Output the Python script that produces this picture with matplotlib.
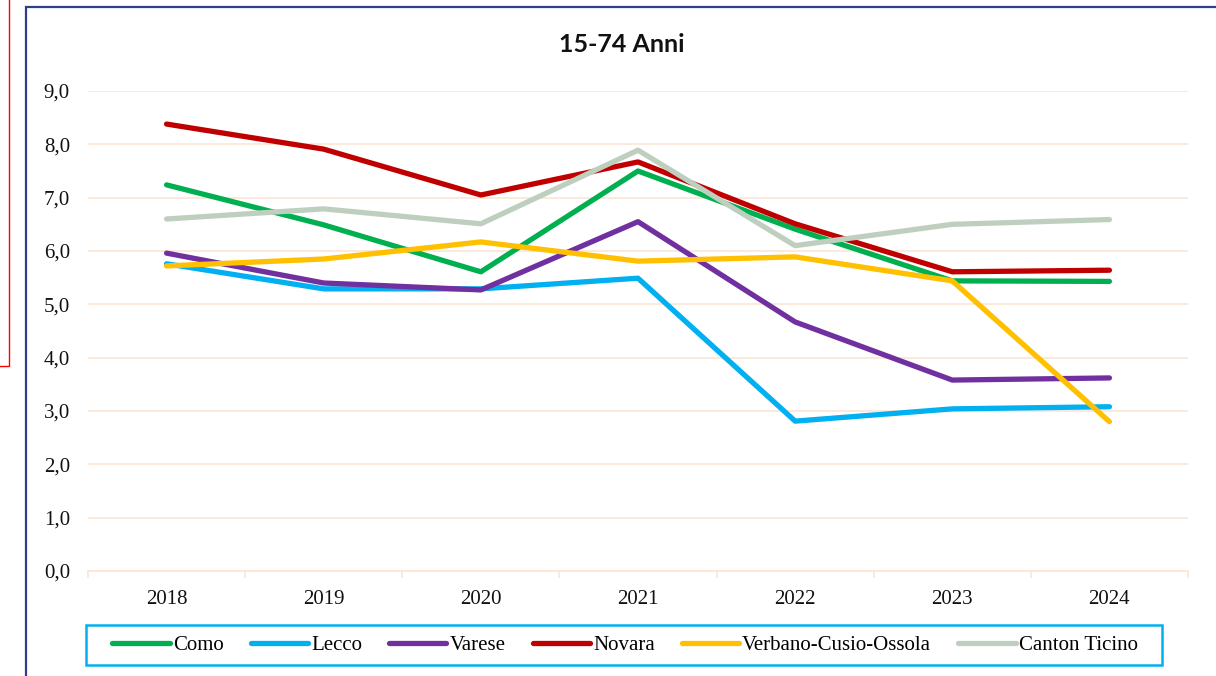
import matplotlib.pyplot as plt
from matplotlib.patches import Rectangle

anni = ['2018', '2019', '2020', '2021', '2022', '2023', '2024']

como = [7.24, 6.49, 5.61, 7.50, 6.41, 5.44, 5.43]
lecco = [5.76, 5.29, 5.29, 5.49, 2.81, 3.04, 3.08]
varese = [5.96, 5.40, 5.27, 6.55, 4.67, 3.58, 3.62]
novara = [8.38, 7.91, 7.05, 7.67, 6.51, 5.61, 5.64]
verbano = [5.72, 5.85, 6.17, 5.81, 5.89, 5.44, 2.80]
ticino = [6.60, 6.79, 6.51, 7.89, 6.10, 6.50, 6.59]

serie = [
    ('Como', como, '#00B050'),
    ('Lecco', lecco, '#00B0F0'),
    ('Varese', varese, '#7030A0'),
    ('Novara', novara, '#C00000'),
    ('Verbano-Cusio-Ossola', verbano, '#FFC000'),
    ('Canton Ticino', ticino, '#BFCFBF'),
]

griglia = '#FBE5D6'

fig = plt.figure(figsize=(12.16, 6.76), dpi=100)
ax = fig.add_axes([88 / 1216, 1 - 571 / 676, 1100 / 1216, 480 / 676])

x = list(range(len(anni)))
for nome, valori, colore in serie:
    ax.plot(x, valori, color=colore, lw=3.8, label=nome, solid_capstyle='round', solid_joinstyle='round')

ax.set_xlim(-0.5, 6.5)
ax.set_ylim(0, 9)
ax.set_yticks(range(10))
ax.set_yticklabels([f'{v},0' for v in range(10)])
ax.set_xticks(x)
ax.set_xticklabels(anni)
ax.set_xticks([i - 0.5 for i in range(8)], minor=True)
ax.tick_params(axis='x', which='major', length=0, pad=13.5)
ax.tick_params(axis='x', which='minor', length=5, color=griglia, width=1.2)
ax.tick_params(axis='y', length=0, pad=13)
ax.grid(axis='y', color=griglia, lw=1.2)
ax.set_axisbelow(True)
for lato in ['top', 'right', 'left']:
    ax.spines[lato].set_visible(False)
ax.spines['bottom'].set_color(griglia)
ax.spines['bottom'].set_linewidth(1.2)

for lab in ax.get_xticklabels() + ax.get_yticklabels():
    lab.set_fontfamily('Liberation Serif')
    lab.set_fontsize(15)
    lab.set_color('#111111')

fig.text(622 / 1216, 1 - 44 / 676, '15-74 Anni', ha='center', va='center',
         fontsize=18, fontweight='bold', fontfamily='Lato', color='#111111')

leg = fig.legend(loc='center', bbox_to_anchor=(625 / 1216, 1 - 645 / 676), ncol=6,
                 prop={'family': 'Liberation Serif', 'size': 15}, frameon=False,
                 handlelength=2.75, handletextpad=0.15,
                 columnspacing=1.3, borderpad=0, borderaxespad=0)
for linea in leg.get_lines():
    linea.set_linewidth(3.8)
    linea.set_solid_capstyle('round')

# cornice legenda
fig.patches.append(Rectangle((86 / 1216, 1 - 665 / 676), 1076 / 1216, 40 / 676,
                             transform=fig.transFigure, fill=False, edgecolor='#00B0F0', lw=1.8))

# cornici
fig.patches.append(Rectangle((26 / 1216, -0.05), 1.2, 1.05 - 7 / 676, transform=fig.transFigure,
                             fill=False, edgecolor='#2F3E8E', lw=1.6))
fig.patches.append(Rectangle((-0.05, 1 - 366 / 676), 0.05 + 9 / 1216, 366 / 676 + 0.05,
                             transform=fig.transFigure, fill=False, edgecolor='#FF0000', lw=1))

fig.savefig('out.png', dpi=100)
